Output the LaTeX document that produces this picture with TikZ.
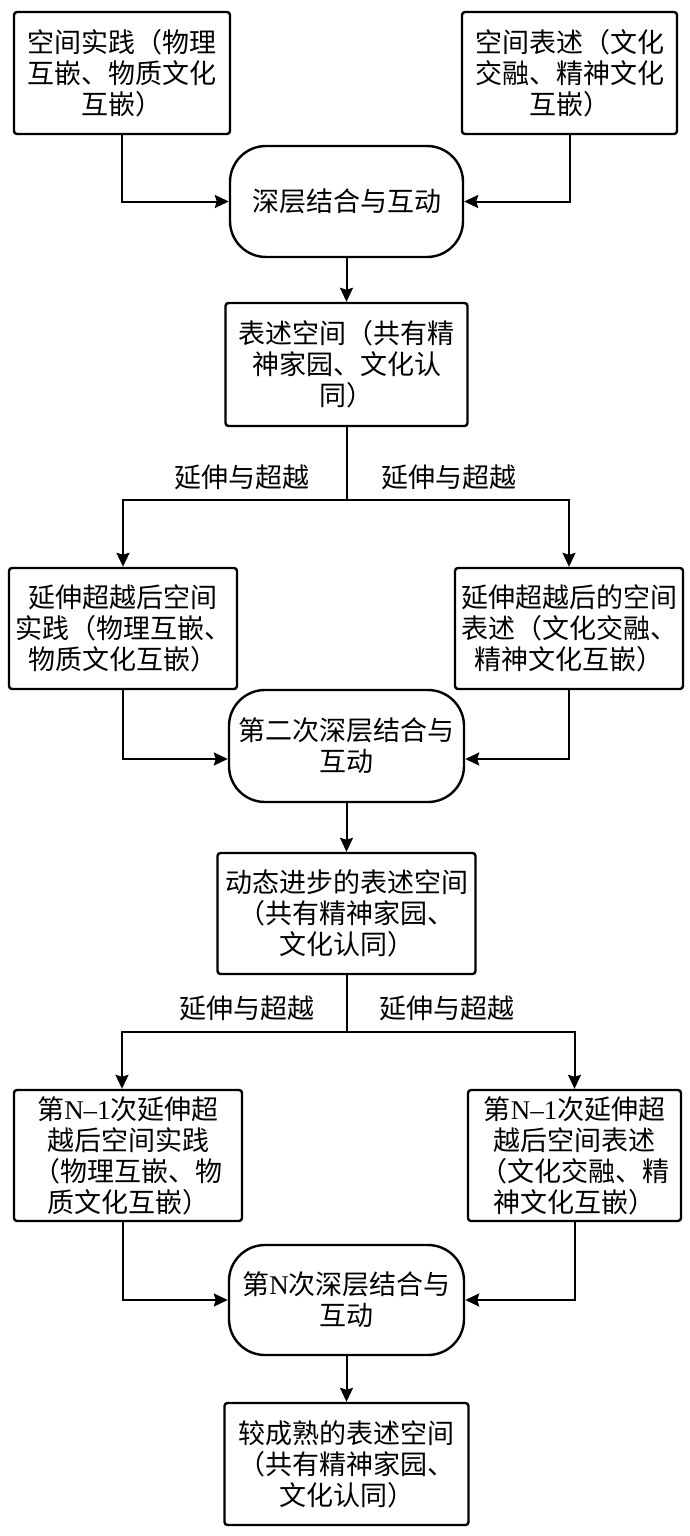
\documentclass[tikz,border=0pt]{standalone}
\usepackage{fontspec}
\setmainfont{Noto Sans CJK SC}
\newfontfamily\latin{Liberation Serif}
\usepackage{tikz}
\usetikzlibrary{arrows.meta, positioning}
\tikzset{
  flownode/.style = {align=center, inner sep=0pt, text centered,
    font=\fontsize{13.5}{15.5}\selectfont},
  box/.style = {flownode, rectangle, draw=black, rounded corners=1.5pt,
    line width=1.2pt},
  pill/.style = {flownode, rectangle, draw=black, rounded corners=18pt,
    line width=1.2pt},
  lbl/.style = {flownode}
}

\begin{document}
\begin{tikzpicture}[x=0.5pt, y=-0.5pt, ->, >={Stealth[length=7pt, width=6.5pt, inset=1pt]}, line width=1pt]
\useasboundingbox (0,0) rectangle (690,1536);
% first round
\node [box, minimum width=108pt, minimum height=61pt] (sp1) at (122,73) {空间实践（物理\\互嵌、物质文化\\互嵌）};
\node [box, minimum width=107.5pt, minimum height=61pt] (rp1) at (569.5,73) {空间表述（文化\\交融、精神文化\\互嵌）};
\node [pill, minimum width=116.5pt, minimum height=55.5pt] (dm1) at (346.5,201.5) {深层结合与互动};
\node [box, minimum width=121pt, minimum height=61.5pt] (ts1) at (346.5,364.5) {表述空间（共有精\\神家园、文化认\\同）};
\draw (sp1.south) |- (dm1.west);
\draw (rp1.south) |- (dm1.east);
\draw (dm1.south) -- (ts1.north);
\coordinate (split1) at (346.5,500);
\draw [-] (ts1.south) -- (split1);
\node [lbl] (ext1l) at (242,477) {延伸与超越};
\node [lbl] (ext1r) at (449,477) {延伸与超越};
% second round
\node [box, minimum width=114pt, minimum height=60.5pt] (sp2) at (123,628.5) {延伸超越后空间\\实践（物理互嵌、\\物质文化互嵌）};
\node [box, minimum width=114pt, minimum height=60.5pt] (rp2) at (569,628.5) {延伸超越后的空间\\表述（文化交融、\\精神文化互嵌）};
\draw (split1) -| (sp2.north);
\draw (split1) -| (rp2.north);
\node [pill, minimum width=117.5pt, minimum height=56pt] (dm2) at (346.5,746) {第二次深层结合与\\互动};
\node [box, minimum width=129pt, minimum height=60.5pt] (ts2) at (346.5,913.5) {动态进步的表述空间\\（共有精神家园、\\文化认同）};
\draw (sp2.south) |- ([yshift=-6.5pt]dm2.west);
\draw (rp2.south) |- ([yshift=-6.5pt]dm2.east);
\draw (dm2.south) -- (ts2.north);
\coordinate (split2) at (346.5,1032);
\draw [-] (ts2.south) -- (split2);
\node [lbl] (ext2l) at (247,1008) {延伸与超越};
\node [lbl] (ext2r) at (447,1008) {延伸与超越};
% n-th round
\node [box, minimum width=114pt, minimum height=65.5pt] (sp3) at (128,1155.5) {第{\latin N–1}次延伸超\\越后空间实践\\（物理互嵌、物\\质文化互嵌）};
\node [box, minimum width=106.5pt, minimum height=65.5pt] (rp3) at (574.5,1155.5) {第{\latin N–1}次延伸超\\越后空间表述\\（文化交融、精\\神文化互嵌）};
\draw (split2) -| ([xshift=-3pt]sp3.north);
\draw (split2) -| (rp3.north);
\node [pill, minimum width=117.5pt, minimum height=55pt] (dm3) at (346.5,1300) {第{\latin N}次深层结合与\\互动};
\node [box, minimum width=122pt, minimum height=61pt] (ts3) at (346.5,1464) {较成熟的表述空间\\（共有精神家园、\\文化认同）};
\draw ([xshift=-2.5pt]sp3.south) |- (dm3.west);
\draw (rp3.south) |- (dm3.east);
\draw (dm3.south) -- (ts3.north);
\end{tikzpicture}
\end{document}
